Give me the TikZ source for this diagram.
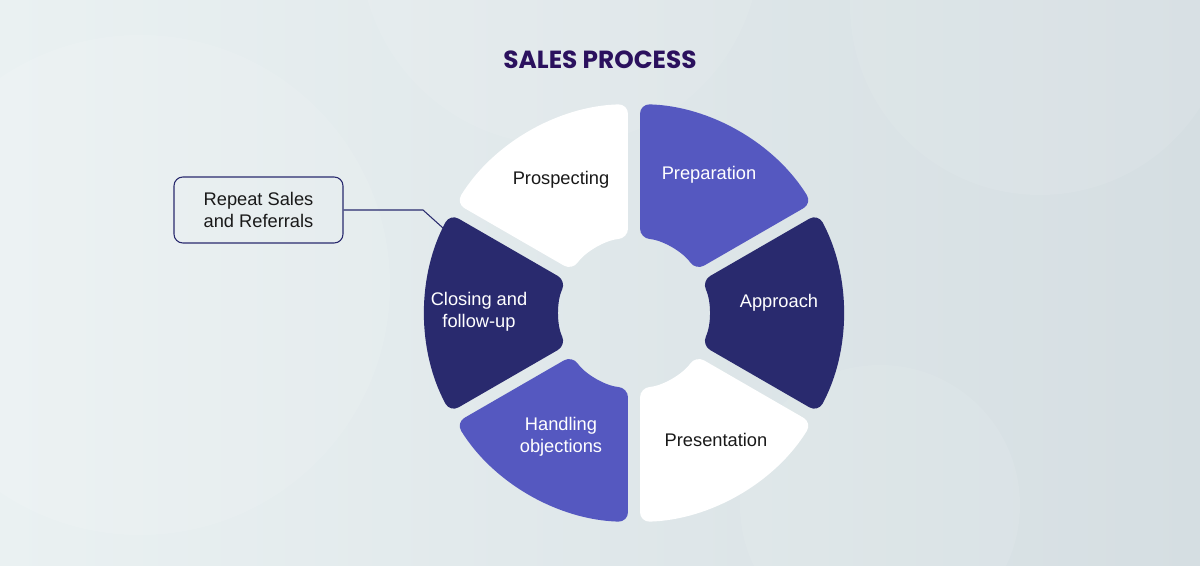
\documentclass[tikz,border=0pt]{standalone}
\usepackage{fontspec}
\setmainfont{Liberation Sans}
\newfontfamily\titlefont{Poppins}
\usetikzlibrary{positioning}

\definecolor{bgLeft}{RGB}{234,241,242}
\definecolor{bgRight}{RGB}{213,222,226}
\definecolor{segBlue}{RGB}{85,88,192}
\definecolor{segNavy}{RGB}{41,42,110}
\definecolor{titleInk}{RGB}{43,17,94}
\definecolor{textInk}{RGB}{25,25,25}

\tikzset{
  seg/.style={rounded corners=5.5pt},
  segLabel/.style={font=\fontsize{10.4}{12.5}\selectfont, align=center, inner sep=0pt},
}

\begin{document}
\begin{tikzpicture}[x=0.02cm, y=0.02cm]
	\useasboundingbox (0,0) rectangle (1200,565);

	% background
	\shade[left color=bgLeft, right color=bgRight] (0,0) rectangle (1200,565);
	\fill[white, opacity=0.10] (140,280) circle (250);
	\fill[white, opacity=0.08] (560,620) circle (200);
	\fill[white, opacity=0.08] (1040,560) circle (190);
	\fill[white, opacity=0.08] (880,60) circle (140);

	\node[font=\titlefont\bfseries\fontsize{14.1}{16}\selectfont, text=titleInk](title) at (600,505){SALES PROCESS};

	% draw ring segments
	\begin{scope}[shift={(634,252)}]
		\fill[seg, fill=white] ({90+1.65}:209) arc[start angle={90+1.65}, end angle={150-1.65}, radius=209] -- ({150-4.6}:75) arc[start angle={150-4.6}, end angle={90+4.6}, radius=75] -- cycle;
		\fill[seg, fill=segBlue] ({30+1.65}:209) arc[start angle={30+1.65}, end angle={90-1.65}, radius=209] -- ({90-4.6}:75) arc[start angle={90-4.6}, end angle={30+4.6}, radius=75] -- cycle;
		\fill[seg, fill=segNavy] ({-30+1.65}:209) arc[start angle={-30+1.65}, end angle={30-1.65}, radius=209] -- ({30-4.6}:75) arc[start angle={30-4.6}, end angle={-30+4.6}, radius=75] -- cycle;
		\fill[seg, fill=white] ({-90+1.65}:209) arc[start angle={-90+1.65}, end angle={-30-1.65}, radius=209] -- ({-30-4.6}:75) arc[start angle={-30-4.6}, end angle={-90+4.6}, radius=75] -- cycle;
		\fill[seg, fill=segBlue] ({-150+1.65}:209) arc[start angle={-150+1.65}, end angle={-90-1.65}, radius=209] -- ({-90-4.6}:75) arc[start angle={-90-4.6}, end angle={-150+4.6}, radius=75] -- cycle;
		\fill[seg, fill=segNavy] ({150+1.65}:209) arc[start angle={150+1.65}, end angle={210-1.65}, radius=209] -- ({210-4.6}:75) arc[start angle={210-4.6}, end angle={150+4.6}, radius=75] -- cycle;
	\end{scope}

	% segment labels
	\node[segLabel, text=textInk](prospecting) at (561,385){Prospecting};
	\node[segLabel, text=white](preparation) at (709,390){Preparation};
	\node[segLabel, text=white](approach) at (779,262){Approach};
	\node[segLabel, text=textInk](presentation) at (716,125){Presentation};
	\node[segLabel, text=white](handling) at (561,128){Handling\\objections};
	\node[segLabel, text=white](closing) at (479,253){Closing and\\follow-up};

	% callout
	\node[rectangle, rounded corners=5pt, draw=segNavy, line width=0.6pt, minimum width=3.38cm, minimum height=1.32cm, font=\fontsize{10.4}{12.5}\selectfont, text=textInk, align=center](repeat) at (258.5,355){Repeat Sales\\and Referrals};
	\coordinate (bend) at (423,355);
	\coordinate (tip) at (443,337);
	\draw[segNavy, line width=0.6pt] (repeat.east) -- (bend) -- (tip);
\end{tikzpicture}
\end{document}
